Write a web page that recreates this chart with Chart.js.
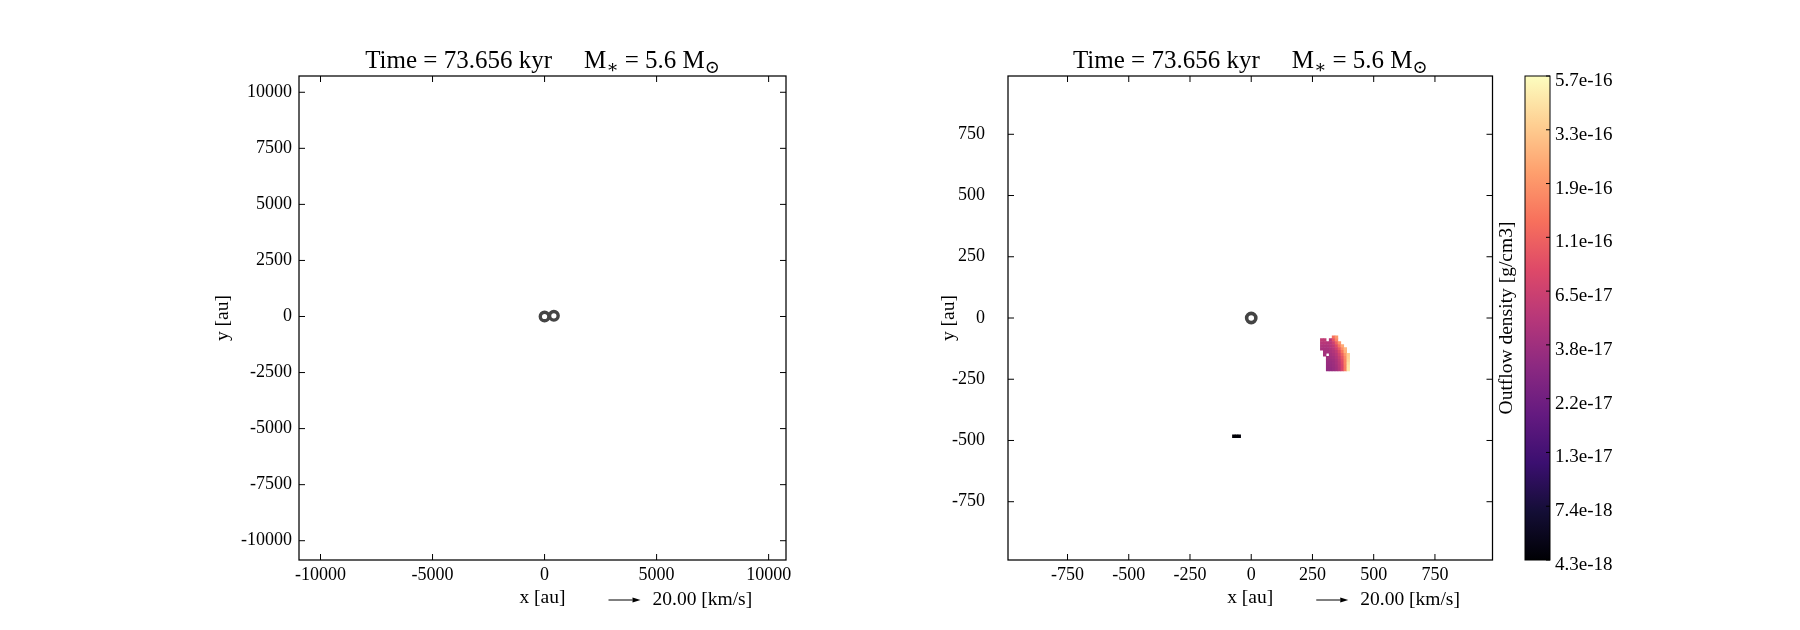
<!DOCTYPE html>
<html>
<head>
<meta charset="utf-8">
<script src="https://cdn.jsdelivr.net/npm/chart.js@4.4.1/dist/chart.umd.min.js"></script>
<style>
  html, body { margin: 0; padding: 0; background: #ffffff; }
  #wrap { position: relative; width: 1800px; height: 630px; overflow: hidden; }
  #wrap canvas { position: absolute; left: 0; top: 0; }
</style>
</head>
<body>
<div id="wrap">
  <canvas id="leftPanel" width="1800" height="630"></canvas>
  <canvas id="rightPanel" width="1800" height="630"></canvas>
  <canvas id="cbarPanel" width="1800" height="630"></canvas>
</div>
<script>
// ---------------- data ----------------
const titleMain = 'Time = 73.656 kyr';
const titleMass = ['M', '\u2217', ' = 5.6 M', '\u2299'];   // M_* = 5.6 M_sun
const xLabel = 'x [au]';
const yLabel = 'y [au]';
const quiverLabel = '20.00 [km/s]';
const cbarTitle = 'Outflow density [g/cm3]';

const leftXTicks = [-10000, -5000, 0, 5000, 10000];
const leftYTicks = [-10000, -7500, -5000, -2500, 0, 2500, 5000, 7500, 10000];
const leftXRange = [-10960, 10775];
const leftYRange = [-10860, 10726];

const rightXTicks = [-750, -500, -250, 0, 250, 500, 750];
const rightYTicks = [-750, -500, -250, 0, 250, 500, 750];
const rightXRange = [-993, 985];
const rightYRange = [-988, 988];

// sink particles (ring markers)
const sinksLeftX = [0, 415];
const sinksLeftY = [0, 30];
const sinksRightX = [0];
const sinksRightY = [0];

// outflow density cells in the zoomed (right) panel, row by row
const outflowCell = 12; // au, cell size
const outflowRowY = [-78, -90, -102, -114, -126, -138, -150, -162, -174, -186, -198, -210, -483];
const outflowRowX = [
  [336, 348],
  [288, 300, 324, 336, 348],
  [288, 300, 312, 324, 336, 348, 360],
  [288, 300, 312, 324, 336, 348, 360, 372],
  [288, 300, 312, 324, 336, 348, 360, 372, 384],
  [300, 312, 324, 336, 348, 360, 372, 384],
  [300, 324, 336, 348, 360, 372, 384, 396],
  [312, 324, 336, 348, 360, 372, 384, 396],
  [312, 324, 336, 348, 360, 372, 384, 396],
  [312, 324, 336, 348, 360, 372, 384, 396],
  [312, 324, 336, 348, 360, 372, 384, 396],
  [312, 324, 336, 348, 360, 372, 384, 396],
  [-71, -60, -49]
];
const outflowRowRho = [
  [1.3e-16, 2.0e-16],
  [5.5e-17, 5.5e-17, 5.0e-17, 9.0e-17, 1.7e-16],
  [5.0e-17, 5.0e-17, 4.8e-17, 5.0e-17, 6.5e-17, 1.1e-16, 2.0e-16],
  [4.5e-17, 4.5e-17, 4.5e-17, 4.8e-17, 5.5e-17, 8.0e-17, 1.4e-16, 2.4e-16],
  [4.2e-17, 4.2e-17, 4.2e-17, 4.5e-17, 5.0e-17, 6.5e-17, 1.0e-16, 1.8e-16, 2.8e-16],
  [4.0e-17, 4.0e-17, 4.2e-17, 4.6e-17, 5.5e-17, 8.0e-17, 1.4e-16, 2.6e-16],
  [4.0e-17, 4.0e-17, 4.3e-17, 5.0e-17, 6.8e-17, 1.1e-16, 2.0e-16, 3.5e-16],
  [3.8e-17, 3.8e-17, 4.0e-17, 4.6e-17, 6.0e-17, 9.5e-17, 1.7e-16, 3.6e-16],
  [3.6e-17, 3.6e-17, 3.8e-17, 4.3e-17, 5.5e-17, 8.5e-17, 1.6e-16, 3.8e-16],
  [3.5e-17, 3.5e-17, 3.7e-17, 4.2e-17, 5.2e-17, 8.0e-17, 1.6e-16, 4.2e-16],
  [3.4e-17, 3.4e-17, 3.6e-17, 4.0e-17, 5.0e-17, 7.5e-17, 1.5e-16, 4.5e-16],
  [3.3e-17, 3.3e-17, 3.5e-17, 3.9e-17, 4.8e-17, 7.5e-17, 1.5e-16, 4.6e-16],
  [4.4e-18, 4.4e-18, 4.5e-18]
];

// colour bar
const rhoMin = 4.3e-18;
const rhoMax = 5.7e-16;
const cbarLabels = ['4.3e-18', '7.4e-18', '1.3e-17', '2.2e-17', '3.8e-17', '6.5e-17', '1.1e-16', '1.9e-16', '3.3e-16', '5.7e-16'];

// ---------------- styling helpers ----------------
const FONT = '"Liberation Serif", "DejaVu Serif", serif';
const TICK_SIZE = 18;
const LABEL_SIZE = 19.5;
const magmaStops = ['#000004', '#140e36', '#3b0f70', '#641a80', '#8c2981', '#b73779',
                    '#de4968', '#f7705c', '#fe9f6d', '#fecf92', '#fcfdbf'];
function hexRgb(h) { return [1, 3, 5].map(i => parseInt(h.substr(i, 2), 16)); }
function magma(t) {
  t = Math.max(0, Math.min(1, t));
  const p = t * (magmaStops.length - 1);
  const i = Math.min(Math.floor(p), magmaStops.length - 2);
  const f = p - i;
  const a = hexRgb(magmaStops[i]), b = hexRgb(magmaStops[i + 1]);
  const c = a.map((v, k) => Math.round(v + (b[k] - v) * f));
  return `rgb(${c[0]},${c[1]},${c[2]})`;
}
function rhoColor(r) {
  return magma((Math.log10(r) - Math.log10(rhoMin)) / (Math.log10(rhoMax) - Math.log10(rhoMin)));
}

// plugins: frame with inward ticks, panel title, quiver key
const framePlugin = {
  id: 'frameTicks',
  afterDatasetsDraw(chart, args, o) {
    if (!o || !o.enabled) return;
    const { ctx, chartArea: a } = chart;
    ctx.save();
    ctx.strokeStyle = '#000';
    ctx.lineWidth = o.tickWidth;
    ctx.beginPath();
    (o.xScales || []).forEach(id => {
      const s = chart.scales[id];
      s.ticks.forEach(t => {
        const p = s.getPixelForValue(t.value);
        ctx.moveTo(p, a.bottom); ctx.lineTo(p, a.bottom - o.tickLen);
        ctx.moveTo(p, a.top); ctx.lineTo(p, a.top + o.tickLen);
      });
    });
    (o.yScales || []).forEach(id => {
      const s = chart.scales[id];
      s.ticks.forEach(t => {
        const p = s.getPixelForValue(t.value);
        if (o.leftTicks !== false) { ctx.moveTo(a.left, p); ctx.lineTo(a.left + o.tickLen, p); }
        ctx.moveTo(a.right, p); ctx.lineTo(a.right - o.tickLen, p);
      });
    });
    ctx.stroke();
    ctx.lineWidth = o.frameWidth;
    ctx.strokeRect(a.left, a.top, a.right - a.left, a.bottom - a.top);
    ctx.restore();
  }
};

const titlePlugin = {
  id: 'panelTitle',
  afterDraw(chart, args, o) {
    if (!o || !o.enabled) return;
    const { ctx, chartArea: a } = chart;
    const big = `${o.size}px ${FONT}`;
    const small = `${Math.round(o.size * 0.7)}px ${FONT}`;
    const parts = [
      { t: titleMain, f: big, dy: 0 },
      { gap: o.gap },
      { t: titleMass[0], f: big, dy: 0 },
      { t: titleMass[1], f: small, dy: o.subShift },
      { t: titleMass[2], f: big, dy: 0 },
      { t: titleMass[3], f: small, dy: o.subShift }
    ];
    ctx.save();
    ctx.fillStyle = '#000';
    ctx.textBaseline = 'alphabetic';
    ctx.textAlign = 'left';
    let total = 0;
    parts.forEach(p => {
      if (p.gap) { p.w = p.gap; } else { ctx.font = p.f; p.w = ctx.measureText(p.t).width; }
      total += p.w;
    });
    let x = (a.left + a.right) / 2 - total / 2;
    parts.forEach(p => {
      if (!p.gap) { ctx.font = p.f; ctx.fillText(p.t, x, o.baseline + p.dy); }
      x += p.w;
    });
    ctx.restore();
  }
};

const quiverPlugin = {
  id: 'quiverKey',
  afterDraw(chart, args, o) {
    if (!o || !o.enabled) return;
    const { ctx, chartArea: a } = chart;
    const cx = (a.left + a.right) / 2;
    const x0 = cx + o.start, x1 = cx + o.end, y = o.y;
    ctx.save();
    ctx.strokeStyle = '#000';
    ctx.fillStyle = '#000';
    ctx.lineWidth = 1;
    ctx.beginPath();
    ctx.moveTo(x0, y); ctx.lineTo(x1 - o.head, y);
    ctx.stroke();
    ctx.beginPath();
    ctx.moveTo(x1, y);
    ctx.lineTo(x1 - o.head, y - o.headHalf);
    ctx.lineTo(x1 - o.head, y + o.headHalf);
    ctx.closePath();
    ctx.fill();
    ctx.font = `${o.size}px ${FONT}`;
    ctx.textBaseline = 'middle';
    ctx.textAlign = 'left';
    ctx.fillText(quiverLabel, cx + o.textStart, y);
    ctx.restore();
  }
};

function linAxis(pos, range, ticks, title, boxSize, tickPad) {
  const horiz = pos === 'bottom';
  return {
    type: 'linear', position: pos, min: range[0], max: range[1],
    afterBuildTicks: s => { s.ticks = ticks.map(v => ({ value: v })); },
    afterFit: s => { if (horiz) s.height = boxSize; else s.width = boxSize; },
    grid: { display: false, drawTicks: false },
    border: { display: false },
    ticks: {
      callback: v => String(v), color: '#000', padding: tickPad,
      font: { family: FONT, size: TICK_SIZE }, maxRotation: 0, autoSkip: false
    },
    title: {
      display: true, text: title, color: '#000', padding: 0,
      font: { family: FONT, size: LABEL_SIZE, lineHeight: 1.2 }
    }
  };
}

function sinkDataset(xs, ys, r, bw) {
  return {
    label: 'sinks', order: 0,
    data: xs.map((x, i) => ({ x, y: ys[i] })),
    pointStyle: 'circle', pointRadius: r, borderWidth: bw,
    borderColor: '#444444', backgroundColor: 'rgba(0,0,0,0)'
  };
}

const commonOpts = {
  responsive: false, animation: false, events: [],
  plugins: { legend: { display: false }, tooltip: { enabled: false } }
};
const quiverOpts = { enabled: true, start: 66, end: 98, head: 8, headHalf: 2.5, y: 600, textStart: 110, size: LABEL_SIZE };
const titleOpts = { enabled: true, size: 25, gap: 32, baseline: 68, subShift: 5 };
const XBOX = 50;

// ---------------- left panel ----------------
new Chart(document.getElementById('leftPanel'), {
  type: 'scatter',
  data: { datasets: [sinkDataset(sinksLeftX, sinksLeftY, 4.3, 3.4)] },
  options: {
    ...commonOpts,
    layout: { padding: { left: 211, right: 1800 - 786, top: 76, bottom: 630 - 560 - XBOX } },
    scales: {
      x: linAxis('bottom', leftXRange, leftXTicks, xLabel, XBOX, 4),
      y: linAxis('left', leftYRange, leftYTicks, yLabel, 88, 7)
    },
    plugins: {
      ...commonOpts.plugins,
      frameTicks: { enabled: true, xScales: ['x'], yScales: ['y'], tickLen: 6, tickWidth: 1, frameWidth: 1.25 },
      panelTitle: titleOpts,
      quiverKey: quiverOpts
    }
  },
  plugins: [framePlugin, titlePlugin, quiverPlugin]
});

// ---------------- right panel ----------------
const outflowPoints = [];
const outflowColors = [];
outflowRowY.forEach((y, r) => {
  outflowRowX[r].forEach((x, c) => {
    outflowPoints.push({ x, y });
    outflowColors.push(rhoColor(outflowRowRho[r][c]));
  });
});

new Chart(document.getElementById('rightPanel'), {
  type: 'scatter',
  data: {
    datasets: [
      sinkDataset(sinksRightX, sinksRightY, 4.6, 3.6),
      {
        label: 'outflow', order: 1,
        data: outflowPoints,
        pointStyle: 'rect', borderWidth: 0,
        backgroundColor: outflowColors,
        pointRadius: ctx => {
          const s = ctx.chart.scales.x;
          const side = Math.abs(s.getPixelForValue(outflowCell) - s.getPixelForValue(0)) + 0.5;
          return side / Math.SQRT2;
        }
      }
    ]
  },
  options: {
    ...commonOpts,
    layout: { padding: { left: 937, right: 1800 - 1492.5, top: 76, bottom: 630 - 560 - XBOX } },
    scales: {
      x: linAxis('bottom', rightXRange, rightXTicks, xLabel, XBOX, 4),
      y: linAxis('left', rightYRange, rightYTicks, yLabel, 71, 23)
    },
    plugins: {
      ...commonOpts.plugins,
      frameTicks: { enabled: true, xScales: ['x'], yScales: ['y'], tickLen: 6, tickWidth: 1, frameWidth: 1.25 },
      panelTitle: titleOpts,
      quiverKey: quiverOpts
    }
  },
  plugins: [framePlugin, titlePlugin, quiverPlugin]
});

// ---------------- colour bar ----------------
new Chart(document.getElementById('cbarPanel'), {
  type: 'bar',
  data: {
    labels: [''],
    datasets: [{
      data: [cbarLabels.length - 1],
      borderWidth: 0, barPercentage: 1, categoryPercentage: 1,
      backgroundColor: ctx => {
        const a = ctx.chart.chartArea;
        if (!a) return '#000';
        const g = ctx.chart.ctx.createLinearGradient(0, a.bottom, 0, a.top);
        magmaStops.forEach((c, i) => g.addColorStop(i / (magmaStops.length - 1), c));
        return g;
      }
    }]
  },
  options: {
    ...commonOpts,
    layout: { padding: { left: 1495, right: 170, top: 76, bottom: 70 } },
    scales: {
      x: { display: false },
      y: {
        position: 'right', min: 0, max: cbarLabels.length - 1,
        afterBuildTicks: s => { s.ticks = cbarLabels.map((_, i) => ({ value: i })); },
        afterFit: s => { s.width = 80; },
        grid: { display: false, drawTicks: false },
        border: { display: false },
        ticks: { callback: v => cbarLabels[v], color: '#000', padding: 5, labelOffset: 5, font: { family: FONT, size: 19 } }
      },
      yt: {
        position: 'left', min: 0, max: 1,
        afterFit: s => { s.width = 30; },
        grid: { display: false, drawTicks: false },
        border: { display: false },
        ticks: { display: false },
        title: { display: true, text: cbarTitle, color: '#000', padding: 0, font: { family: FONT, size: LABEL_SIZE, lineHeight: 1.2 } }
      }
    },
    plugins: {
      ...commonOpts.plugins,
      frameTicks: { enabled: true, xScales: [], yScales: ['y'], leftTicks: false, tickLen: 4, tickWidth: 1, frameWidth: 1 }
    }
  },
  plugins: [framePlugin]
});
</script>
</body>
</html>
